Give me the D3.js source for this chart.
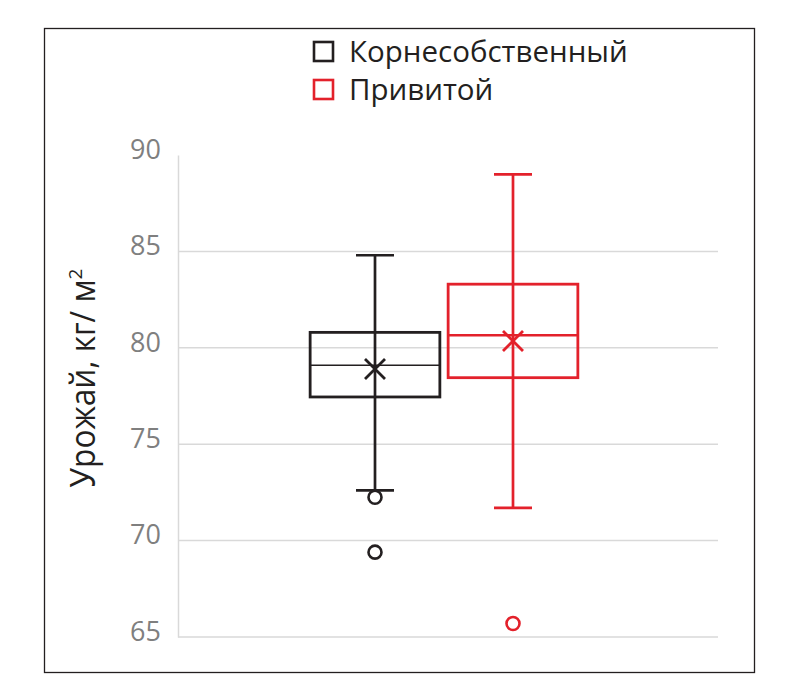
<!DOCTYPE html>
<html><head><meta charset="utf-8">
<script src="https://cdn.jsdelivr.net/npm/d3@7"></script>
<style>body{margin:0;background:#fff}svg{display:block;font-family:"Open Sans",sans-serif}</style>
</head><body><svg id="c" width="800" height="700"></svg>
<script>
const series = ["Корнесобственный", "Привитой"];
const colors = ["#231f20", "#e3212b"];
const whiskerLow = [72.6, 71.7];
const q1 = [77.45, 78.45];
const median = [79.1, 80.65];
const q3 = [80.8, 83.3];
const whiskerHigh = [84.8, 89.0];
const means = [78.9, 80.35];
const outliers = [[72.25, 69.4], [65.7]];
const yTicks = [65, 70, 75, 80, 85, 90];

const svg = d3.select("#c");
svg.append("rect").attr("x", 44.5).attr("y", 28.5).attr("width", 710).attr("height", 644)
  .attr("fill", "none").attr("stroke", "#231f20").attr("stroke-width", 1.3);

const y = d3.scaleLinear().domain([65, 90]).range([637, 155]);
const x = d3.scaleBand().domain(series).range([306, 582]).paddingInner(0.06).paddingOuter(0.03);

// gridlines
svg.append("g").selectAll("line").data(yTicks.filter(t => t < 90)).join("line")
  .attr("x1", 178).attr("x2", 718).attr("y1", d => y(d)).attr("y2", d => y(d))
  .attr("stroke", "#d9d9d9").attr("stroke-width", 1.5);

const yAxis = svg.append("g").attr("transform", "translate(178,0)")
  .call(d3.axisLeft(y).tickValues(yTicks).tickSize(0).tickPadding(17));
yAxis.select(".domain").attr("stroke", "#d9d9d9").attr("stroke-width", 1.5);
yAxis.selectAll("text").attr("fill", "#7f7f7f").attr("dy", "0.12em")
  .style("font-size", "27px").style("font-family", "Open Sans");

const title = svg.append("text").attr("transform", "translate(95,378) rotate(-90)")
  .attr("text-anchor", "middle").attr("fill", "#231f20").style("font-size", "34px");
title.append("tspan").attr("textLength", 208).attr("lengthAdjust", "spacingAndGlyphs").text("Урожай, кг/ м");
title.append("tspan").attr("dy", -13).style("font-size", "19px").text("2");

series.forEach((s, i) => {
  const g = svg.append("g");
  const c = colors[i];
  const cx = x(s) + x.bandwidth() / 2;
  const bw = x.bandwidth();
  const cap = 19;
  g.append("line").attr("x1", cx).attr("x2", cx).attr("y1", y(whiskerHigh[i])).attr("y2", y(whiskerLow[i]))
    .attr("stroke", c).attr("stroke-width", 2.7);
  [whiskerHigh[i], whiskerLow[i]].forEach(v => g.append("line").attr("x1", cx - cap).attr("x2", cx + cap)
    .attr("y1", y(v)).attr("y2", y(v)).attr("stroke", c).attr("stroke-width", 2.7));
  g.append("rect").attr("x", x(s)).attr("y", y(q3[i])).attr("width", bw).attr("height", y(q1[i]) - y(q3[i]))
    .attr("fill", "none").attr("stroke", c).attr("stroke-width", 2.8);
  g.append("line").attr("x1", x(s)).attr("x2", x(s) + bw).attr("y1", y(median[i])).attr("y2", y(median[i]))
    .attr("stroke", c).attr("stroke-width", i === 0 ? 1.5 : 2.6);
  const m = 10, my = y(means[i]);
  g.append("path").attr("d", `M${cx - m},${my - m}L${cx + m},${my + m}M${cx - m},${my + m}L${cx + m},${my - m}`)
    .attr("stroke", c).attr("stroke-width", 2.8).attr("fill", "none");
  outliers[i].forEach(v => g.append("circle").attr("cx", cx).attr("cy", y(v)).attr("r", 6.5)
    .attr("fill", "none").attr("stroke", c).attr("stroke-width", 2.6));
});

const leg = svg.append("g");
series.forEach((s, i) => {
  const ly = 42 + i * 38;
  leg.append("rect").attr("x", 314).attr("y", ly).attr("width", 19).attr("height", 19)
    .attr("fill", "none").attr("stroke", colors[i]).attr("stroke-width", 2.6);
  leg.append("text").attr("x", 349).attr("y", ly + 20).attr("fill", "#231f20")
    .style("font-size", "29.5px").text(s);
});
</script></body></html>
